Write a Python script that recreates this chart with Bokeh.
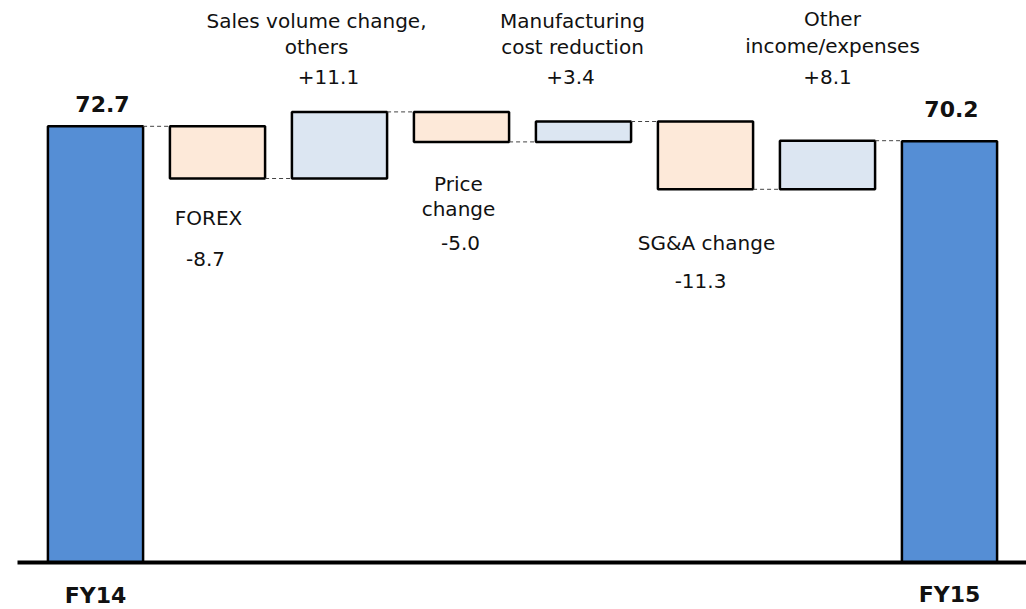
from bokeh.plotting import figure
from bokeh.models import Range1d, ColumnDataSource
from bokeh.core.properties import value
from bokeh.embed import file_html
from bokeh.resources import INLINE

# ---- data ----
categories = ["FY14", "FOREX", "Sales volume change, others", "Price change",
              "Manufacturing cost reduction", "SG&A change", "Other income/expenses", "FY15"]
values = [72.7, -8.7, 11.1, -5.0, 3.4, -11.3, 8.1, 70.2]
value_labels = ["72.7", "-8.7", "+11.1", "-5.0", "+3.4", "-11.3", "+8.1", "70.2"]
name_lines = [[], ["FOREX"], ["Sales volume change,", "others"], ["Price", "change"],
              ["Manufacturing", "cost reduction"], ["SG&A change"], ["Other", "income/expenses"], []]
is_total = [True, False, False, False, False, False, False, True]

# ---- waterfall geometry from data ----
bottoms, tops, colors, levels = [], [], [], []
running = 0.0
for v, tot in zip(values, is_total):
    if tot:
        bottoms.append(0.0); tops.append(v); colors.append("#558ed5")
        running = v
    else:
        start, end = running, running + v
        bottoms.append(min(start, end)); tops.append(max(start, end))
        colors.append("#dce6f2" if v > 0 else "#fde9d9")
        running = end
    levels.append(running)
xs = list(range(len(categories)))

# ---- layout helpers (page pixel -> data) ----
W, H = 1026, 609
PX_PER_UNIT_Y = 6.0
BASE_Y = 562.0
PX_PER_UNIT_X = 122.0
X0_PX = 95.0
def dy(py):
    return (BASE_Y - py) / PX_PER_UNIT_Y
def dx(px):
    return (px - X0_PX) / PX_PER_UNIT_X

p = figure(width=W, height=H, output_backend="svg", toolbar_location=None,
           x_range=Range1d(dx(0), dx(W)), y_range=Range1d(dy(H), dy(0)),
           min_border=0, outline_line_color=None)
p.axis.visible = False
p.grid.visible = False
p.background_fill_color = "white"

BW = 0.78
src = ColumnDataSource(dict(x=xs, top=tops, bottom=bottoms, color=colors))
p.vbar(x="x", top="top", bottom="bottom", width=BW, fill_color="color",
       line_color="black", line_width=2.5, source=src)

# connectors
cx0 = [xs[i] + BW / 2 for i in range(len(xs) - 1)]
cx1 = [xs[i + 1] - BW / 2 for i in range(len(xs) - 1)]
cy = levels[:-1]
p.segment(x0=cx0, y0=cy, x1=cx1, y1=cy, line_color="#444444", line_width=1, line_dash="4 3")

# baseline
p.segment(x0=[dx(17)], y0=[0], x1=[dx(W + 5)], y1=[0], line_color="black", line_width=4)

FONT = value("DejaVu Sans")
# label layout: page pixel centres
name_pos = {1: (208, [217]), 2: (316, [20, 46]), 3: (458, [183, 208]),
            4: (572, [20, 46]), 5: (706, [242]), 6: (832, [18, 45])}
val_pos = {0: (102, 103), 1: (205, 258), 2: (328, 76), 3: (460, 242),
           4: (570, 76), 5: (700, 280), 6: (827, 76), 7: (951, 108)}
cat_pos = {0: (95, 595), 7: (949, 594)}

tx, ty, tt = [], [], []
for i, lines in enumerate(name_lines):
    if i in name_pos:
        px, pys = name_pos[i]
        for ln, yy in zip(lines, pys):
            tx.append(dx(px)); ty.append(dy(yy)); tt.append(ln)
vx, vy, vt, bx, by, bt = [], [], [], [], [], []
for i in xs:
    px, py = val_pos[i]
    if is_total[i]:
        bx.append(dx(px)); by.append(dy(py)); bt.append(value_labels[i])
    else:
        vx.append(dx(px)); vy.append(dy(py)); vt.append(value_labels[i])
p.text(x=tx, y=ty, text=tt, text_font=FONT, text_font_size="20px", text_align="center",
       text_baseline="middle", text_color="#111111")
p.text(x=vx, y=vy, text=vt, text_font=FONT, text_font_size="20px", text_align="center",
       text_baseline="middle", text_color="#111111")
p.text(x=bx, y=by, text=bt, text_font=FONT, text_font_size="22px", text_font_style="bold",
       text_align="center", text_baseline="middle", text_color="#111111")

fx = [dx(cat_pos[i][0]) for i in xs if is_total[i]]
fy = [dy(cat_pos[i][1]) for i in xs if is_total[i]]
ft = [categories[i] for i in xs if is_total[i]]
p.text(x=fx, y=fy, text=ft, text_font=FONT, text_font_size="22px", text_font_style="bold",
       text_align="center", text_baseline="middle", text_color="#111111")

open("out.html", "w").write(file_html(p, INLINE))
